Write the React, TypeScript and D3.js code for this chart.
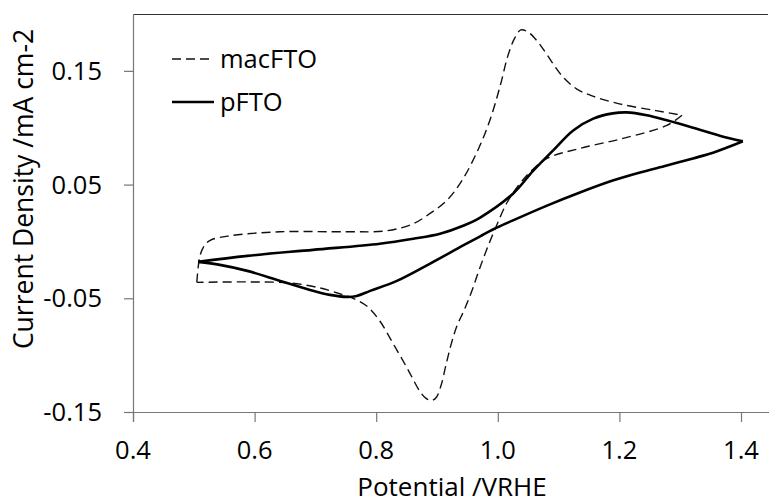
import React from "react";
import * as d3 from "d3";

// macFTO (dashed) — anodic branch from the lower-left corner up through the peak to the tip
const macForwardX = [0.505, 0.510, 0.517, 0.527, 0.560, 0.642, 0.752, 0.818, 0.861, 0.888, 0.916, 0.941, 0.967, 0.987, 1.004, 1.017, 1.028, 1.038, 1.050, 1.065, 1.080, 1.095, 1.110, 1.130, 1.155, 1.200, 1.260, 1.303];
const macForwardY = [-0.036, -0.013, -0.004, 0.001, 0.005, 0.0085, 0.0085, 0.0094, 0.0156, 0.0244, 0.036, 0.0535, 0.080, 0.1065, 0.137, 0.164, 0.179, 0.186, 0.184, 0.176, 0.165, 0.153, 0.143, 0.134, 0.128, 0.121, 0.115, 0.111];
// macFTO — cathodic branch from the tip back to the lower-left corner
const macReturnX = [1.303, 1.278, 1.206, 1.135, 1.081, 1.055, 1.035, 1.015, 0.998, 0.984, 0.970, 0.957, 0.945, 0.933, 0.923, 0.915, 0.907, 0.899, 0.891, 0.882, 0.872, 0.851, 0.828, 0.806, 0.785, 0.762, 0.740, 0.708, 0.658, 0.588, 0.505];
const macReturnY = [0.111, 0.102, 0.0906, 0.0818, 0.073, 0.062, 0.050, 0.034, 0.014, -0.004, -0.024, -0.044, -0.060, -0.074, -0.091, -0.108, -0.126, -0.137, -0.140, -0.138, -0.132, -0.1115, -0.090, -0.070, -0.057, -0.050, -0.046, -0.041, -0.0365, -0.0356, -0.036];

// pFTO (solid) — anodic branch
const pForwardX = [0.507, 0.588, 0.696, 0.806, 0.861, 0.905, 0.943, 0.971, 1.025, 1.058, 1.091, 1.124, 1.157, 1.189, 1.212, 1.245, 1.278, 1.321, 1.365, 1.403];
const pForwardY = [-0.018, -0.0127, -0.0074, -0.002, 0.0024, 0.0068, 0.0138, 0.021, 0.042, 0.062, 0.080, 0.0976, 0.108, 0.1126, 0.1135, 0.111, 0.1065, 0.100, 0.093, 0.088];
// pFTO — cathodic branch
const pReturnX = [1.403, 1.377, 1.354, 1.321, 1.278, 1.234, 1.189, 1.135, 1.081, 1.025, 0.992, 0.971, 0.943, 0.888, 0.834, 0.790, 0.768, 0.752, 0.724, 0.686, 0.642, 0.588, 0.543, 0.507];
const pReturnY = [0.088, 0.0826, 0.078, 0.073, 0.0668, 0.0606, 0.0535, 0.043, 0.0315, 0.0185, 0.0105, 0.0045, -0.0035, -0.0197, -0.0347, -0.0435, -0.048, -0.0488, -0.047, -0.0418, -0.0347, -0.0259, -0.0206, -0.018];

const xTicks = [0.4, 0.6, 0.8, 1.0, 1.2, 1.4];
const yTicks = [-0.15, -0.05, 0.05, 0.15];
const seriesNames = ["macFTO", "pFTO"];
const xTitle = "Potential /VRHE";
const yTitle = "Current Density /mA cm-2";

const W = 769;
const H = 504;
const left = 133;
const right = 768;
const top = 14;
const bottom = 412;
const FONT = "Open Sans, Lato, sans-serif";

export default function App() {
  const x = d3.scaleLinear().domain([0.4, 1.4]).range([left, 741]);
  const y = d3.scaleLinear().domain([-0.15, 0.2]).range([bottom, top]);
  const line = d3
    .line<[number, number]>()
    .x((d) => x(d[0]))
    .y((d) => y(d[1]))
    .curve(d3.curveCatmullRom.alpha(0.5));
  const zip = (a: number[], b: number[]) => a.map((v, i) => [v, b[i]] as [number, number]);

  return (
    <svg
      width={W}
      height={H}
      style={{ position: "absolute", left: 0, top: 0, background: "#fff" }}
      fontFamily={FONT}
    >
      <rect x={0} y={0} width={W} height={H} fill="#fff" />
      {/* frame */}
      <line x1={left} x2={right} y1={top + 0.5} y2={top + 0.5} stroke="#333" strokeWidth={1.2} />
      <line x1={left + 0.5} x2={left + 0.5} y1={top} y2={bottom + 10} stroke="#777" strokeWidth={1.2} />
      <line x1={left} x2={W} y1={bottom + 0.5} y2={bottom + 0.5} stroke="#777" strokeWidth={1.2} />
      {/* y ticks */}
      {yTicks.map((t) => (
        <g key={"y" + t}>
          <line x1={left - 9} x2={left} y1={y(t) + 0.5} y2={y(t) + 0.5} stroke="#777" strokeWidth={1.2} />
          <text x={102} y={y(t)} dy="0.36em" textAnchor="end" fontSize={25.5} fill="#000">
            {t.toFixed(2)}
          </text>
        </g>
      ))}
      {/* x ticks */}
      {xTicks.map((t) => (
        <g key={"x" + t}>
          <line x1={x(t) + 0.5} x2={x(t) + 0.5} y1={bottom} y2={bottom + 10} stroke="#777" strokeWidth={1.2} />
          <text x={x(t)} y={459} textAnchor="middle" fontSize={25.5} fill="#000">
            {t.toFixed(1)}
          </text>
        </g>
      ))}
      {/* titles */}
      <text x={452} y={496} textAnchor="middle" fontSize={26} fill="#000">
        {xTitle}
      </text>
      <text
        transform={`translate(33,189) rotate(-90)`}
        textAnchor="middle"
        fontSize={26.5}
        fill="#000"
      >
        {yTitle}
      </text>
      {/* curves */}
      <path d={line(zip(macForwardX, macForwardY)) || ""} fill="none" stroke="#111" strokeWidth={1.4} strokeDasharray="9,5" />
      <path d={line(zip(macReturnX, macReturnY)) || ""} fill="none" stroke="#111" strokeWidth={1.4} strokeDasharray="9,5" />
      <path d={line(zip(pForwardX, pForwardY)) || ""} fill="none" stroke="#000" strokeWidth={2.6} strokeLinejoin="round" />
      <path d={line(zip(pReturnX, pReturnY)) || ""} fill="none" stroke="#000" strokeWidth={2.6} strokeLinejoin="round" />
      {/* legend */}
      <line x1={172} x2={214} y1={59} y2={59} stroke="#111" strokeWidth={1.4} strokeDasharray="9,5" />
      <text x={220} y={59} dy="0.36em" fontSize={25.5} fill="#000">
        {seriesNames[0]}
      </text>
      <line x1={172} x2={214} y1={102} y2={102} stroke="#000" strokeWidth={2.6} />
      <text x={220} y={102} dy="0.36em" fontSize={25.5} fill="#000">
        {seriesNames[1]}
      </text>
    </svg>
  );
}
